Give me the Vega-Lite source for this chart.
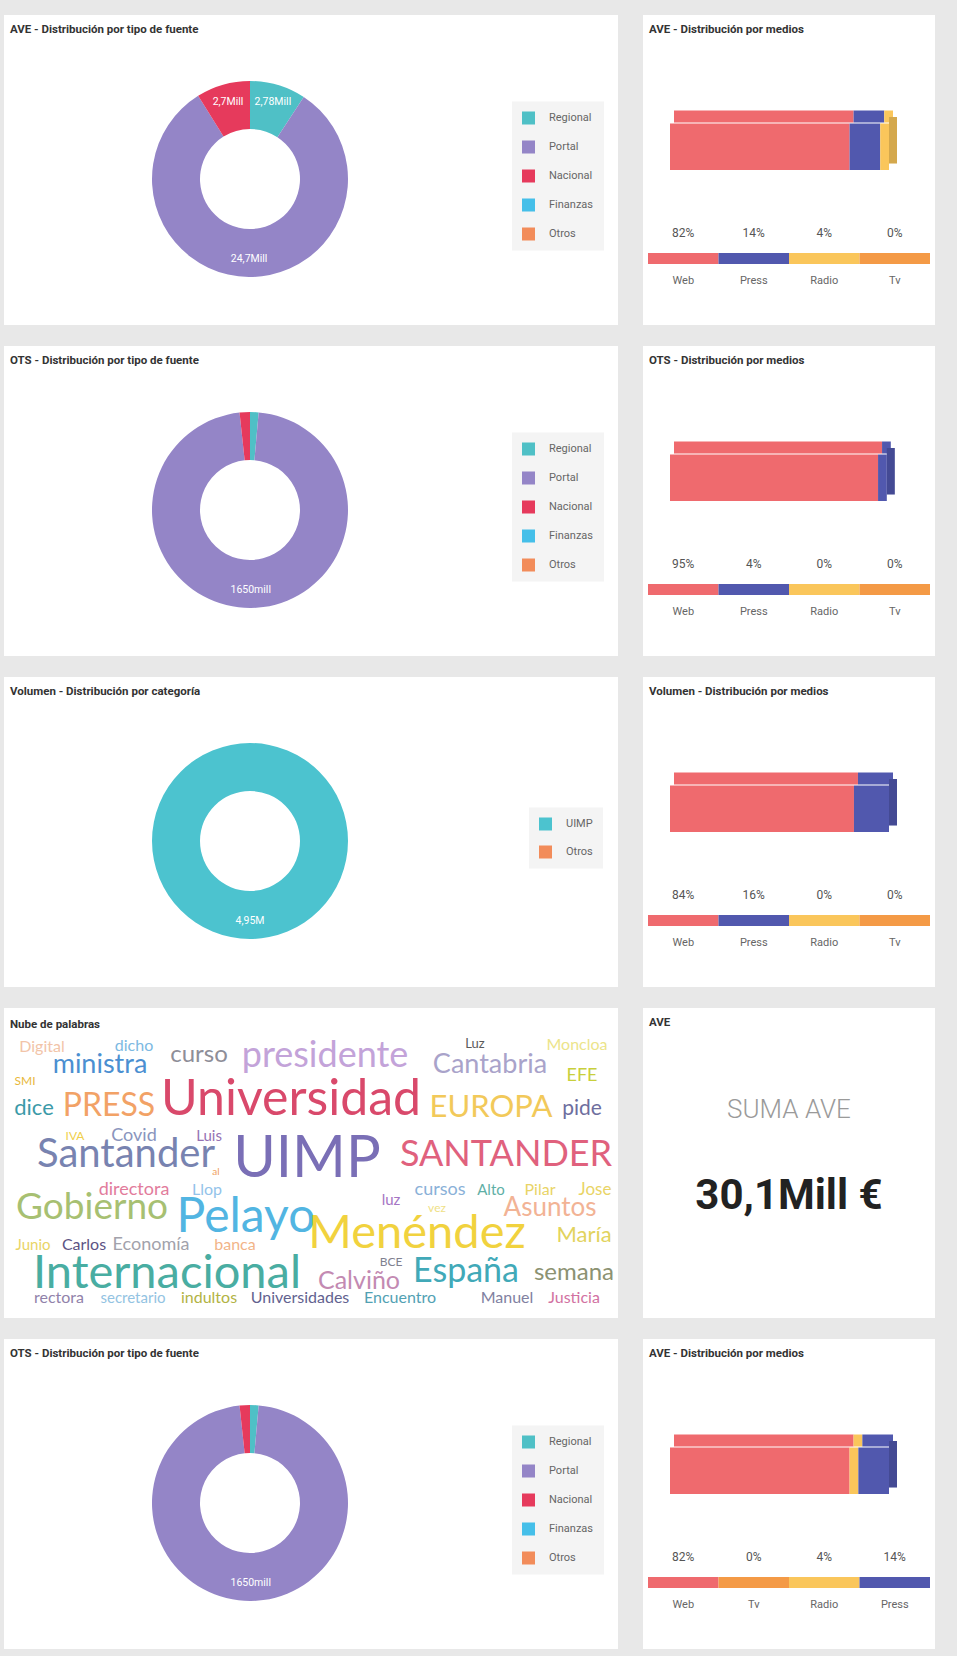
{
"$schema":"https://vega.github.io/schema/vega-lite/v6.json",
"background":"#e8e8e8",
"padding":{"left":4,"top":15,"right":22,"bottom":7},
"config":{"view":{"fill":"white","stroke":null},"text":{"font":"Roboto"}},
"columns":2,
"spacing":{"row":21,"column":25},
"align":"each",
"bounds":"flush",
"resolve":{"scale":{"color":"independent","theta":"independent","x":"independent","y":"independent","size":"independent"},"legend":{"color":"independent"}},
"datasets":{
"card":[{"fondo":"card"}],
"src_ave":[
{"tipo":"Regional","value":2.78,"idx":1,"label":"2,78Mill"},
{"tipo":"Portal","value":24.65,"idx":2,"label":"24,7Mill"},
{"tipo":"Nacional","value":2.67,"idx":3,"label":"2,7Mill"},
{"tipo":"Finanzas","value":0,"idx":4,"label":""},
{"tipo":"Otros","value":0,"idx":5,"label":""}],
"src_ots":[
{"tipo":"Regional","value":24,"idx":1,"label":""},
{"tipo":"Portal","value":1650,"idx":2,"label":"1650mill"},
{"tipo":"Nacional","value":29,"idx":3,"label":""},
{"tipo":"Finanzas","value":0,"idx":4,"label":""},
{"tipo":"Otros","value":0,"idx":5,"label":""}],
"cat_vol":[
{"tipo":"UIMP","value":4.95,"idx":1,"label":"4,95M"},
{"tipo":"Otros","value":0,"idx":2,"label":""}],
"med_ave":[
{"medio":"Web","pct":0.82,"idx":1},
{"medio":"Press","pct":0.14,"idx":2},
{"medio":"Radio","pct":0.04,"idx":3},
{"medio":"Tv","pct":0,"idx":4}],
"med_ots":[
{"medio":"Web","pct":0.95,"idx":1},
{"medio":"Press","pct":0.04,"idx":2},
{"medio":"Radio","pct":0,"idx":3},
{"medio":"Tv","pct":0,"idx":4}],
"med_vol":[
{"medio":"Web","pct":0.84,"idx":1},
{"medio":"Press","pct":0.16,"idx":2},
{"medio":"Radio","pct":0,"idx":3},
{"medio":"Tv","pct":0,"idx":4}],
"med_ave2":[
{"medio":"Web","pct":0.82,"idx":1},
{"medio":"Tv","pct":0,"idx":2},
{"medio":"Radio","pct":0.04,"idx":3},
{"medio":"Press","pct":0.14,"idx":4}],
"nube":[
{"palabra":"Digital","x":38,"y":39,"peso":16},
{"palabra":"dicho","x":130,"y":38,"peso":16},
{"palabra":"ministra","x":96,"y":57,"peso":27},
{"palabra":"curso","x":195,"y":47,"peso":24},
{"palabra":"presidente","x":321,"y":48,"peso":36},
{"palabra":"Luz","x":471,"y":36,"peso":13},
{"palabra":"Moncloa","x":573,"y":37,"peso":16},
{"palabra":"Cantabria","x":486,"y":57,"peso":27},
{"palabra":"EFE","x":578,"y":68,"peso":18},
{"palabra":"SMI","x":21,"y":73,"peso":12},
{"palabra":"dice","x":30,"y":100,"peso":22},
{"palabra":"PRESS","x":105,"y":98,"peso":32},
{"palabra":"Universidad","x":287,"y":92,"peso":50},
{"palabra":"EUROPA","x":487,"y":100,"peso":31},
{"palabra":"pide","x":578,"y":101,"peso":21},
{"palabra":"IVA","x":71,"y":128,"peso":12},
{"palabra":"Covid","x":130,"y":128,"peso":18},
{"palabra":"Luis","x":205,"y":128,"peso":15},
{"palabra":"Santander","x":122,"y":147,"peso":40},
{"palabra":"UIMP","x":303,"y":152,"peso":58},
{"palabra":"SANTANDER","x":502,"y":147,"peso":36},
{"palabra":"al","x":212,"y":164,"peso":10},
{"palabra":"directora","x":130,"y":182,"peso":18},
{"palabra":"Llop","x":203,"y":182,"peso":16},
{"palabra":"Gobierno","x":88,"y":200,"peso":37},
{"palabra":"Pelayo","x":242,"y":210,"peso":48},
{"palabra":"luz","x":387,"y":192,"peso":15},
{"palabra":"cursos","x":436,"y":182,"peso":18},
{"palabra":"Alto","x":487,"y":182,"peso":15},
{"palabra":"Pilar","x":536,"y":182,"peso":16},
{"palabra":"Jose","x":591,"y":182,"peso":17},
{"palabra":"vez","x":433,"y":200,"peso":12},
{"palabra":"Asuntos","x":546,"y":200,"peso":26},
{"palabra":"Menéndez","x":413,"y":226,"peso":47},
{"palabra":"María","x":580,"y":227,"peso":22},
{"palabra":"Junio","x":29,"y":237,"peso":15},
{"palabra":"Carlos","x":80,"y":237,"peso":16},
{"palabra":"Economía","x":147,"y":237,"peso":18},
{"palabra":"banca","x":231,"y":237,"peso":16},
{"palabra":"Internacional","x":163,"y":266,"peso":47},
{"palabra":"BCE","x":387,"y":254,"peso":12},
{"palabra":"Calviño","x":355,"y":273,"peso":25},
{"palabra":"España","x":462,"y":264,"peso":34},
{"palabra":"semana","x":570,"y":265,"peso":24},
{"palabra":"rectora","x":55,"y":290,"peso":16},
{"palabra":"secretario","x":129,"y":290,"peso":15},
{"palabra":"indultos","x":205,"y":290,"peso":16},
{"palabra":"Universidades","x":296,"y":290,"peso":16},
{"palabra":"Encuentro","x":396,"y":290,"peso":16},
{"palabra":"Manuel","x":503,"y":290,"peso":16},
{"palabra":"Justicia","x":570,"y":290,"peso":16}]
},
"concat":[
{"width":614,"height":310,
"layer":[
{"data":{"name":"card"},"mark":{"type":"rect","color":"white"},"encoding":{"x":{"value":0},"x2":{"value":"width"},"y":{"value":0},"y2":{"value":"height"}}},
{"data":{"values":[{"t":"AVE - Distribución por tipo de fuente"}]},"mark":{"type":"text","align":"left","baseline":"middle","x":6,"y":15,"font":"Roboto","fontSize":11.5,"fontWeight":"bold","color":"#333"},"encoding":{"text":{"field":"t","type":"nominal"}}},
{"data":{"name":"src_ave"},"mark":{"type":"arc","innerRadius":50,"outerRadius":98,"x":246,"y":164},"encoding":{"theta":{"field":"value","type":"quantitative","stack":true},"color":{"field":"tipo","type":"nominal","scale":{"domain":["Regional","Portal","Nacional","Finanzas","Otros"],"range":["#4fc0c6","#9485c7","#e63a5c","#45bfe9","#f28c5a"]},"legend":{"orient":"none","legendX":508,"legendY":86.5,"title":null,"symbolType":"square","symbolSize":169,"symbolStrokeWidth":0,"labelFont":"Roboto","labelFontSize":11,"labelColor":"#666","labelOffset":14,"rowPadding":16,"padding":10,"fillColor":"#f4f4f4","direction":"vertical"}},"order":{"field":"idx","type":"quantitative"}}},
{"data":{"name":"src_ave"},"mark":{"type":"text","radius":80,"x":246,"y":164,"color":"white","font":"Roboto","fontSize":10.5},"encoding":{"theta":{"field":"value","type":"quantitative","stack":true},"detail":{"field":"tipo","type":"nominal"},"order":{"field":"idx","type":"quantitative"},"text":{"field":"label","type":"nominal"}}}
]},
{"width":292,"height":310,
"data":{"name":"med_ave"},
"transform":[{"stack":"pct","groupby":[],"sort":[{"field":"idx","order":"ascending"}],"as":["s0","s1"]}],
"layer":[
{"data":{"values":[{"t":"AVE - Distribución por medios"}]},"mark":{"type":"text","align":"left","baseline":"middle","x":6,"y":15,"font":"Roboto","fontSize":11.5,"fontWeight":"bold","color":"#333"},"encoding":{"text":{"field":"t","type":"nominal"}}},
{"mark":{"type":"rect","xOffset":4,"x2Offset":4},"encoding":{"x":{"field":"s0","type":"quantitative","scale":{"domain":[0,1],"range":[27,246]},"axis":null},"x2":{"field":"s1"},"y":{"value":95.5},"y2":{"value":107.5},"color":{"field":"medio","type":"nominal","scale":{"domain":["Web","Press","Radio","Tv"],"range":["#ef6a6e","#5158ae","#fac65b","#f49a46"]},"legend":null}}},
{"mark":{"type":"rect"},"encoding":{"x":{"field":"s0","type":"quantitative","scale":{"domain":[0,1],"range":[27,246]},"axis":null},"x2":{"field":"s1"},"y":{"value":108.5},"y2":{"value":155},"color":{"field":"medio","type":"nominal","legend":null}}},
{"transform":[{"joinaggregate":[{"op":"max","field":"s1","as":"mx"}]},{"filter":"datum.pct > 0 && datum.s1 == datum.mx"}],"mark":{"type":"rect","x2Offset":8},"encoding":{"x":{"field":"s1","type":"quantitative","scale":{"domain":[0,1],"range":[27,246]},"axis":null},"x2":{"field":"s1"},"y":{"value":102},"y2":{"value":148.5},"color":{"field":"medio","type":"nominal","legend":null}}},
{"transform":[{"joinaggregate":[{"op":"max","field":"s1","as":"mx"}]},{"filter":"datum.pct > 0 && datum.s1 == datum.mx"}],"mark":{"type":"rect","x2Offset":8,"color":"black","opacity":0.15},"encoding":{"x":{"field":"s1","type":"quantitative","scale":{"domain":[0,1],"range":[27,246]},"axis":null},"x2":{"field":"s1"},"y":{"value":102},"y2":{"value":148.5}}},
{"mark":{"type":"bar"},"encoding":{"x":{"field":"medio","type":"nominal","sort":{"field":"idx","op":"min"},"scale":{"range":[5,287],"paddingInner":0,"paddingOuter":0},"axis":null},"y":{"value":238},"y2":{"value":249},"color":{"field":"medio","type":"nominal","legend":null}}},
{"mark":{"type":"text","y":218,"font":"Roboto","fontSize":12,"color":"#555"},"encoding":{"x":{"field":"medio","type":"nominal","sort":{"field":"idx","op":"min"},"scale":{"range":[5,287],"paddingInner":0,"paddingOuter":0},"axis":null},"text":{"field":"pct","type":"quantitative","format":".0%"}}},
{"mark":{"type":"text","y":266,"font":"Roboto","fontSize":11,"color":"#666"},"encoding":{"x":{"field":"medio","type":"nominal","sort":{"field":"idx","op":"min"},"scale":{"range":[5,287],"paddingInner":0,"paddingOuter":0},"axis":null},"text":{"field":"medio","type":"nominal"}}}
],
"resolve":{"scale":{"x":"independent"}}},
{"width":614,"height":310,
"layer":[
{"data":{"name":"card"},"mark":{"type":"rect","color":"white"},"encoding":{"x":{"value":0},"x2":{"value":"width"},"y":{"value":0},"y2":{"value":"height"}}},
{"data":{"values":[{"t":"OTS - Distribución por tipo de fuente"}]},"mark":{"type":"text","align":"left","baseline":"middle","x":6,"y":15,"font":"Roboto","fontSize":11.5,"fontWeight":"bold","color":"#333"},"encoding":{"text":{"field":"t","type":"nominal"}}},
{"data":{"name":"src_ots"},"mark":{"type":"arc","innerRadius":50,"outerRadius":98,"x":246,"y":164},"encoding":{"theta":{"field":"value","type":"quantitative","stack":true},"color":{"field":"tipo","type":"nominal","scale":{"domain":["Regional","Portal","Nacional","Finanzas","Otros"],"range":["#4fc0c6","#9485c7","#e63a5c","#45bfe9","#f28c5a"]},"legend":{"orient":"none","legendX":508,"legendY":86.5,"title":null,"symbolType":"square","symbolSize":169,"symbolStrokeWidth":0,"labelFont":"Roboto","labelFontSize":11,"labelColor":"#666","labelOffset":14,"rowPadding":16,"padding":10,"fillColor":"#f4f4f4","direction":"vertical"}},"order":{"field":"idx","type":"quantitative"}}},
{"data":{"name":"src_ots"},"mark":{"type":"text","radius":80,"x":246,"y":164,"color":"white","font":"Roboto","fontSize":10.5},"encoding":{"theta":{"field":"value","type":"quantitative","stack":true},"detail":{"field":"tipo","type":"nominal"},"order":{"field":"idx","type":"quantitative"},"text":{"field":"label","type":"nominal"}}}
]},
{"width":292,"height":310,
"data":{"name":"med_ots"},
"transform":[{"stack":"pct","groupby":[],"sort":[{"field":"idx","order":"ascending"}],"as":["s0","s1"]}],
"layer":[
{"data":{"values":[{"t":"OTS - Distribución por medios"}]},"mark":{"type":"text","align":"left","baseline":"middle","x":6,"y":15,"font":"Roboto","fontSize":11.5,"fontWeight":"bold","color":"#333"},"encoding":{"text":{"field":"t","type":"nominal"}}},
{"mark":{"type":"rect","xOffset":4,"x2Offset":4},"encoding":{"x":{"field":"s0","type":"quantitative","scale":{"domain":[0,1],"range":[27,246]},"axis":null},"x2":{"field":"s1"},"y":{"value":95.5},"y2":{"value":107.5},"color":{"field":"medio","type":"nominal","scale":{"domain":["Web","Press","Radio","Tv"],"range":["#ef6a6e","#5158ae","#fac65b","#f49a46"]},"legend":null}}},
{"mark":{"type":"rect"},"encoding":{"x":{"field":"s0","type":"quantitative","scale":{"domain":[0,1],"range":[27,246]},"axis":null},"x2":{"field":"s1"},"y":{"value":108.5},"y2":{"value":155},"color":{"field":"medio","type":"nominal","legend":null}}},
{"transform":[{"joinaggregate":[{"op":"max","field":"s1","as":"mx"}]},{"filter":"datum.pct > 0 && datum.s1 == datum.mx"}],"mark":{"type":"rect","x2Offset":8},"encoding":{"x":{"field":"s1","type":"quantitative","scale":{"domain":[0,1],"range":[27,246]},"axis":null},"x2":{"field":"s1"},"y":{"value":102},"y2":{"value":148.5},"color":{"field":"medio","type":"nominal","legend":null}}},
{"transform":[{"joinaggregate":[{"op":"max","field":"s1","as":"mx"}]},{"filter":"datum.pct > 0 && datum.s1 == datum.mx"}],"mark":{"type":"rect","x2Offset":8,"color":"black","opacity":0.15},"encoding":{"x":{"field":"s1","type":"quantitative","scale":{"domain":[0,1],"range":[27,246]},"axis":null},"x2":{"field":"s1"},"y":{"value":102},"y2":{"value":148.5}}},
{"mark":{"type":"bar"},"encoding":{"x":{"field":"medio","type":"nominal","sort":{"field":"idx","op":"min"},"scale":{"range":[5,287],"paddingInner":0,"paddingOuter":0},"axis":null},"y":{"value":238},"y2":{"value":249},"color":{"field":"medio","type":"nominal","legend":null}}},
{"mark":{"type":"text","y":218,"font":"Roboto","fontSize":12,"color":"#555"},"encoding":{"x":{"field":"medio","type":"nominal","sort":{"field":"idx","op":"min"},"scale":{"range":[5,287],"paddingInner":0,"paddingOuter":0},"axis":null},"text":{"field":"pct","type":"quantitative","format":".0%"}}},
{"mark":{"type":"text","y":266,"font":"Roboto","fontSize":11,"color":"#666"},"encoding":{"x":{"field":"medio","type":"nominal","sort":{"field":"idx","op":"min"},"scale":{"range":[5,287],"paddingInner":0,"paddingOuter":0},"axis":null},"text":{"field":"medio","type":"nominal"}}}
],
"resolve":{"scale":{"x":"independent"}}},
{"width":614,"height":310,
"layer":[
{"data":{"name":"card"},"mark":{"type":"rect","color":"white"},"encoding":{"x":{"value":0},"x2":{"value":"width"},"y":{"value":0},"y2":{"value":"height"}}},
{"data":{"values":[{"t":"Volumen - Distribución por categoría"}]},"mark":{"type":"text","align":"left","baseline":"middle","x":6,"y":15,"font":"Roboto","fontSize":11.5,"fontWeight":"bold","color":"#333"},"encoding":{"text":{"field":"t","type":"nominal"}}},
{"data":{"name":"cat_vol"},"mark":{"type":"arc","innerRadius":50,"outerRadius":98,"x":246,"y":164},"encoding":{"theta":{"field":"value","type":"quantitative","stack":true},"color":{"field":"tipo","type":"nominal","scale":{"domain":["UIMP","Otros"],"range":["#4cc3cf","#f28c5a"]},"legend":{"orient":"none","legendX":525,"legendY":130.5,"title":null,"symbolType":"square","symbolSize":169,"symbolStrokeWidth":0,"labelFont":"Roboto","labelFontSize":11,"labelColor":"#666","labelOffset":14,"rowPadding":15,"padding":10,"fillColor":"#f4f4f4","direction":"vertical"}},"order":{"field":"idx","type":"quantitative"}}},
{"data":{"name":"cat_vol"},"mark":{"type":"text","radius":80,"x":246,"y":164,"color":"white","font":"Roboto","fontSize":10.5},"encoding":{"theta":{"field":"value","type":"quantitative","stack":true},"detail":{"field":"tipo","type":"nominal"},"order":{"field":"idx","type":"quantitative"},"text":{"field":"label","type":"nominal"}}}
]},
{"width":292,"height":310,
"data":{"name":"med_vol"},
"transform":[{"stack":"pct","groupby":[],"sort":[{"field":"idx","order":"ascending"}],"as":["s0","s1"]}],
"layer":[
{"data":{"values":[{"t":"Volumen - Distribución por medios"}]},"mark":{"type":"text","align":"left","baseline":"middle","x":6,"y":15,"font":"Roboto","fontSize":11.5,"fontWeight":"bold","color":"#333"},"encoding":{"text":{"field":"t","type":"nominal"}}},
{"mark":{"type":"rect","xOffset":4,"x2Offset":4},"encoding":{"x":{"field":"s0","type":"quantitative","scale":{"domain":[0,1],"range":[27,246]},"axis":null},"x2":{"field":"s1"},"y":{"value":95.5},"y2":{"value":107.5},"color":{"field":"medio","type":"nominal","scale":{"domain":["Web","Press","Radio","Tv"],"range":["#ef6a6e","#5158ae","#fac65b","#f49a46"]},"legend":null}}},
{"mark":{"type":"rect"},"encoding":{"x":{"field":"s0","type":"quantitative","scale":{"domain":[0,1],"range":[27,246]},"axis":null},"x2":{"field":"s1"},"y":{"value":108.5},"y2":{"value":155},"color":{"field":"medio","type":"nominal","legend":null}}},
{"transform":[{"joinaggregate":[{"op":"max","field":"s1","as":"mx"}]},{"filter":"datum.pct > 0 && datum.s1 == datum.mx"}],"mark":{"type":"rect","x2Offset":8},"encoding":{"x":{"field":"s1","type":"quantitative","scale":{"domain":[0,1],"range":[27,246]},"axis":null},"x2":{"field":"s1"},"y":{"value":102},"y2":{"value":148.5},"color":{"field":"medio","type":"nominal","legend":null}}},
{"transform":[{"joinaggregate":[{"op":"max","field":"s1","as":"mx"}]},{"filter":"datum.pct > 0 && datum.s1 == datum.mx"}],"mark":{"type":"rect","x2Offset":8,"color":"black","opacity":0.15},"encoding":{"x":{"field":"s1","type":"quantitative","scale":{"domain":[0,1],"range":[27,246]},"axis":null},"x2":{"field":"s1"},"y":{"value":102},"y2":{"value":148.5}}},
{"mark":{"type":"bar"},"encoding":{"x":{"field":"medio","type":"nominal","sort":{"field":"idx","op":"min"},"scale":{"range":[5,287],"paddingInner":0,"paddingOuter":0},"axis":null},"y":{"value":238},"y2":{"value":249},"color":{"field":"medio","type":"nominal","legend":null}}},
{"mark":{"type":"text","y":218,"font":"Roboto","fontSize":12,"color":"#555"},"encoding":{"x":{"field":"medio","type":"nominal","sort":{"field":"idx","op":"min"},"scale":{"range":[5,287],"paddingInner":0,"paddingOuter":0},"axis":null},"text":{"field":"pct","type":"quantitative","format":".0%"}}},
{"mark":{"type":"text","y":266,"font":"Roboto","fontSize":11,"color":"#666"},"encoding":{"x":{"field":"medio","type":"nominal","sort":{"field":"idx","op":"min"},"scale":{"range":[5,287],"paddingInner":0,"paddingOuter":0},"axis":null},"text":{"field":"medio","type":"nominal"}}}
],
"resolve":{"scale":{"x":"independent"}}},
{"width":614,"height":310,
"layer":[
{"data":{"name":"card"},"mark":{"type":"rect","color":"white"},"encoding":{"x":{"value":0},"x2":{"value":"width"},"y":{"value":0},"y2":{"value":"height"}}},
{"data":{"values":[{"t":"Nube de palabras"}]},"mark":{"type":"text","align":"left","baseline":"middle","x":6,"y":17,"font":"Roboto","fontSize":11.5,"fontWeight":"bold","color":"#333"},"encoding":{"text":{"field":"t","type":"nominal"}}},
{"data":{"name":"nube"},"mark":{"type":"text","font":"Lato","align":"center","baseline":"middle"},"encoding":{"x":{"field":"x","type":"quantitative","scale":{"domain":[0,614],"range":[0,614]},"axis":null},"y":{"field":"y","type":"quantitative","scale":{"domain":[0,310],"range":[0,310]},"axis":null},"size":{"field":"peso","type":"quantitative","scale":{"type":"linear","domain":[0,60],"range":[0,60]},"legend":null},"color":{"field":"palabra","type":"nominal","legend":null,"scale":{"domain":["Digital","dicho","ministra","curso","presidente","Luz","Moncloa","Cantabria","EFE","SMI","dice","PRESS","Universidad","EUROPA","pide","IVA","Covid","Luis","Santander","UIMP","SANTANDER","al","directora","Llop","Gobierno","Pelayo","luz","cursos","Alto","Pilar","Jose","vez","Asuntos","Menéndez","María","Junio","Carlos","Economía","banca","Internacional","BCE","Calviño","España","semana","rectora","secretario","indultos","Universidades","Encuentro","Manuel","Justicia"],"range":["#f2c4a8","#7cb9e2","#4b8fd1","#8e8e98","#c3a3d9","#5a5a5a","#ece48a","#a9a3ca","#c8cf3c","#e8b83a","#3b9aa8","#f2a266","#d9496b","#f2c95a","#6e6e9e","#f0cf4a","#8a95bd","#9672b4","#7883b0","#7a6fb6","#e0617d","#f0a060","#e27c9c","#93c3ea","#a7c072","#52b5e2","#a575c4","#8ab1d8","#5fb0a6","#e9d466","#e9d466","#efe186","#f2b395","#f1d23e","#e2d35e","#e9d466","#5c5284","#a2a2ab","#f2b488","#49ada2","#80808f","#c38ab2","#41a9b8","#8c9272","#9182aa","#93c3e2","#b2b344","#62628f","#52a1b3","#8181a1","#d272a2"]}},"text":{"field":"palabra","type":"nominal"}}}
]},
{"width":292,"height":310,
"layer":[
{"data":{"name":"card"},"mark":{"type":"rect","color":"white"},"encoding":{"x":{"value":0},"x2":{"value":"width"},"y":{"value":0},"y2":{"value":"height"}}},
{"data":{"values":[{"titulo":"AVE","etiqueta":"SUMA AVE","total":"30,1Mill €"}]},"mark":{"type":"text","align":"left","baseline":"middle","x":6,"y":15,"font":"Roboto","fontSize":11.5,"fontWeight":"bold","color":"#333"},"encoding":{"text":{"field":"titulo","type":"nominal"}}},
{"data":{"values":[{"titulo":"AVE","etiqueta":"SUMA AVE","total":"30,1Mill €"}]},"mark":{"type":"text","align":"center","baseline":"middle","x":146,"y":102,"font":"Roboto","fontSize":26,"fontWeight":300,"color":"#9a9a9a"},"encoding":{"text":{"field":"etiqueta","type":"nominal"}}},
{"data":{"values":[{"titulo":"AVE","etiqueta":"SUMA AVE","total":"30,1Mill €"}]},"mark":{"type":"text","align":"center","baseline":"middle","x":146,"y":188,"font":"Roboto","fontSize":42,"fontWeight":"bold","color":"#222"},"encoding":{"text":{"field":"total","type":"nominal"}}}
]},
{"width":614,"height":310,
"layer":[
{"data":{"name":"card"},"mark":{"type":"rect","color":"white"},"encoding":{"x":{"value":0},"x2":{"value":"width"},"y":{"value":0},"y2":{"value":"height"}}},
{"data":{"values":[{"t":"OTS - Distribución por tipo de fuente"}]},"mark":{"type":"text","align":"left","baseline":"middle","x":6,"y":15,"font":"Roboto","fontSize":11.5,"fontWeight":"bold","color":"#333"},"encoding":{"text":{"field":"t","type":"nominal"}}},
{"data":{"name":"src_ots"},"mark":{"type":"arc","innerRadius":50,"outerRadius":98,"x":246,"y":164},"encoding":{"theta":{"field":"value","type":"quantitative","stack":true},"color":{"field":"tipo","type":"nominal","scale":{"domain":["Regional","Portal","Nacional","Finanzas","Otros"],"range":["#4fc0c6","#9485c7","#e63a5c","#45bfe9","#f28c5a"]},"legend":{"orient":"none","legendX":508,"legendY":86.5,"title":null,"symbolType":"square","symbolSize":169,"symbolStrokeWidth":0,"labelFont":"Roboto","labelFontSize":11,"labelColor":"#666","labelOffset":14,"rowPadding":16,"padding":10,"fillColor":"#f4f4f4","direction":"vertical"}},"order":{"field":"idx","type":"quantitative"}}},
{"data":{"name":"src_ots"},"mark":{"type":"text","radius":80,"x":246,"y":164,"color":"white","font":"Roboto","fontSize":10.5},"encoding":{"theta":{"field":"value","type":"quantitative","stack":true},"detail":{"field":"tipo","type":"nominal"},"order":{"field":"idx","type":"quantitative"},"text":{"field":"label","type":"nominal"}}}
]},
{"width":292,"height":310,
"data":{"name":"med_ave2"},
"transform":[{"stack":"pct","groupby":[],"sort":[{"field":"idx","order":"ascending"}],"as":["s0","s1"]}],
"layer":[
{"data":{"values":[{"t":"AVE - Distribución por medios"}]},"mark":{"type":"text","align":"left","baseline":"middle","x":6,"y":15,"font":"Roboto","fontSize":11.5,"fontWeight":"bold","color":"#333"},"encoding":{"text":{"field":"t","type":"nominal"}}},
{"mark":{"type":"rect","xOffset":4,"x2Offset":4},"encoding":{"x":{"field":"s0","type":"quantitative","scale":{"domain":[0,1],"range":[27,246]},"axis":null},"x2":{"field":"s1"},"y":{"value":95.5},"y2":{"value":107.5},"color":{"field":"medio","type":"nominal","scale":{"domain":["Web","Press","Radio","Tv"],"range":["#ef6a6e","#5158ae","#fac65b","#f49a46"]},"legend":null}}},
{"mark":{"type":"rect"},"encoding":{"x":{"field":"s0","type":"quantitative","scale":{"domain":[0,1],"range":[27,246]},"axis":null},"x2":{"field":"s1"},"y":{"value":108.5},"y2":{"value":155},"color":{"field":"medio","type":"nominal","legend":null}}},
{"transform":[{"joinaggregate":[{"op":"max","field":"s1","as":"mx"}]},{"filter":"datum.pct > 0 && datum.s1 == datum.mx"}],"mark":{"type":"rect","x2Offset":8},"encoding":{"x":{"field":"s1","type":"quantitative","scale":{"domain":[0,1],"range":[27,246]},"axis":null},"x2":{"field":"s1"},"y":{"value":102},"y2":{"value":148.5},"color":{"field":"medio","type":"nominal","legend":null}}},
{"transform":[{"joinaggregate":[{"op":"max","field":"s1","as":"mx"}]},{"filter":"datum.pct > 0 && datum.s1 == datum.mx"}],"mark":{"type":"rect","x2Offset":8,"color":"black","opacity":0.15},"encoding":{"x":{"field":"s1","type":"quantitative","scale":{"domain":[0,1],"range":[27,246]},"axis":null},"x2":{"field":"s1"},"y":{"value":102},"y2":{"value":148.5}}},
{"mark":{"type":"bar"},"encoding":{"x":{"field":"medio","type":"nominal","sort":{"field":"idx","op":"min"},"scale":{"range":[5,287],"paddingInner":0,"paddingOuter":0},"axis":null},"y":{"value":238},"y2":{"value":249},"color":{"field":"medio","type":"nominal","legend":null}}},
{"mark":{"type":"text","y":218,"font":"Roboto","fontSize":12,"color":"#555"},"encoding":{"x":{"field":"medio","type":"nominal","sort":{"field":"idx","op":"min"},"scale":{"range":[5,287],"paddingInner":0,"paddingOuter":0},"axis":null},"text":{"field":"pct","type":"quantitative","format":".0%"}}},
{"mark":{"type":"text","y":266,"font":"Roboto","fontSize":11,"color":"#666"},"encoding":{"x":{"field":"medio","type":"nominal","sort":{"field":"idx","op":"min"},"scale":{"range":[5,287],"paddingInner":0,"paddingOuter":0},"axis":null},"text":{"field":"medio","type":"nominal"}}}
],
"resolve":{"scale":{"x":"independent"}}}
]
}
